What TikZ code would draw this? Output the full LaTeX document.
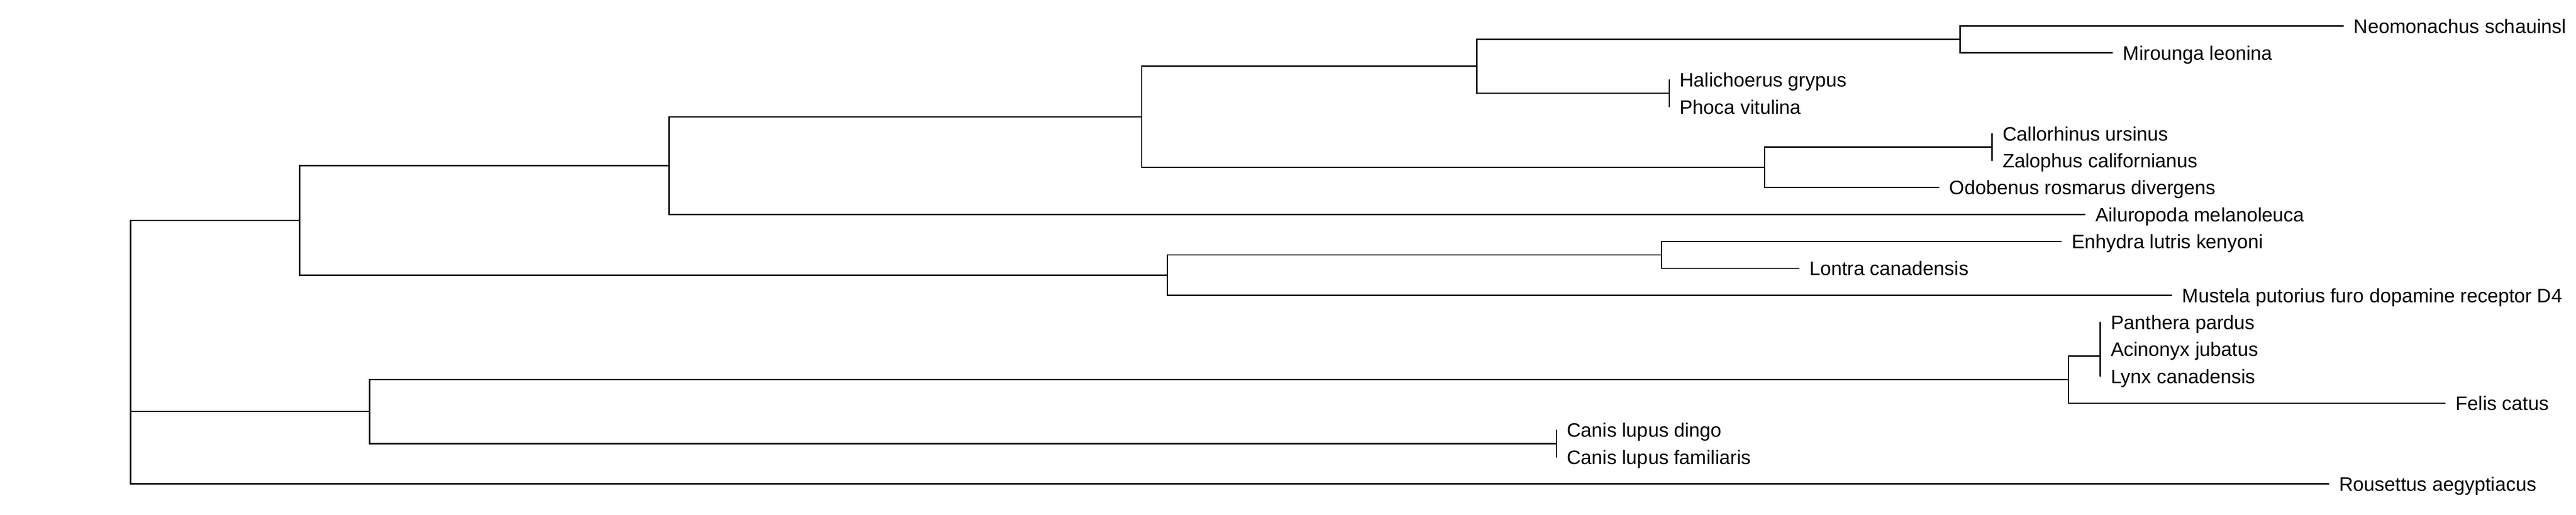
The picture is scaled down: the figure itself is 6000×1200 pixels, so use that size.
\documentclass[tikz,border=0pt]{standalone}
\usepackage{fontspec}
\setmainfont{Liberation Sans}
\usetikzlibrary{positioning}

\begin{document}
\begin{tikzpicture}[x=0.01cm, y=-0.01cm,
      branch/.style={draw=black, line width=0.9pt, line cap=round},
      taxon/.style={anchor=base west, inner sep=0pt, xshift=0.24cm, yshift=-0.165cm, font=\fontsize{12.9}{15}\selectfont}]

\useasboundingbox (0,0) rectangle (6000,1200);

% inner nodes
\coordinate (r) at (304,820);
\coordinate (a) at (698,513.6);
\coordinate (b) at (1558,386.0);
\coordinate (c) at (2659,272.2);
\coordinate (d) at (3440,154.5);
\coordinate (e) at (4565,91.7);
\coordinate (f) at (3888,217.3);
\coordinate (g) at (4110,389.9);
\coordinate (h) at (4640,342.9);
\coordinate (i) at (2719,641.1);
\coordinate (j) at (3870,594.0);
\coordinate (k) at (861,959.0);
\coordinate (l) at (4818,884.4);
\coordinate (m) at (4892,829.5);
\coordinate (mp) at (4892,782.4);
\coordinate (n) at (3625,1033.6);

% leaves
\coordinate (neo) at (5458,60.3);
\coordinate (mir) at (4920,123.1);
\coordinate (hal) at (3888,185.9);
\coordinate (pho) at (3888,248.7);
\coordinate (cal) at (4640,311.5);
\coordinate (zal) at (4640,374.3);
\coordinate (odo) at (4516,437.0);
\coordinate (ail) at (4856,499.8);
\coordinate (enh) at (4801,562.6);
\coordinate (lon) at (4190,625.4);
\coordinate (mus) at (5058,688.2);
\coordinate (pan) at (4892,751.0);
\coordinate (aci) at (4892,813.8);
\coordinate (lyn) at (4892,876.6);
\coordinate (fel) at (5695,939.4);
\coordinate (din) at (3625,1002.2);
\coordinate (fam) at (3625,1065.0);
\coordinate (rou) at (5424,1127.7);

\node[taxon] (neoL) at (neo) {Neomonachus schauinsl};
\node[taxon] (mirL) at (mir) {Mirounga leonina};
\node[taxon] (halL) at (hal) {Halichoerus grypus};
\node[taxon] (phoL) at (pho) {Phoca vitulina};
\node[taxon] (calL) at (cal) {Callorhinus ursinus};
\node[taxon] (zalL) at (zal) {Zalophus californianus};
\node[taxon] (odoL) at (odo) {Odobenus rosmarus divergens};
\node[taxon] (ailL) at (ail) {Ailuropoda melanoleuca};
\node[taxon] (enhL) at (enh) {Enhydra lutris kenyoni};
\node[taxon] (lonL) at (lon) {Lontra canadensis};
\node[taxon] (musL) at (mus) {Mustela putorius furo dopamine receptor D4};
\node[taxon] (panL) at (pan) {Panthera pardus};
\node[taxon] (aciL) at (aci) {Acinonyx jubatus};
\node[taxon] (lynL) at (lyn) {Lynx canadensis};
\node[taxon] (felL) at (fel) {Felis catus};
\node[taxon] (dinL) at (din) {Canis lupus dingo};
\node[taxon] (famL) at (fam) {Canis lupus familiaris};
\node[taxon] (rouL) at (rou) {Rousettus aegyptiacus};

\draw[branch] (r) |- (a);
\draw[branch] (r) |- (k);
\draw[branch] (r) |- (rou);
\draw[branch] (a) |- (b);
\draw[branch] (a) |- (i);
\draw[branch] (b) |- (c);
\draw[branch] (b) |- (ail);
\draw[branch] (c) |- (d);
\draw[branch] (c) |- (g);
\draw[branch] (d) |- (e);
\draw[branch] (d) |- (f);
\draw[branch] (e) |- (neo);
\draw[branch] (e) |- (mir);
\draw[branch] (f) |- (hal);
\draw[branch] (f) |- (pho);
\draw[branch] (g) |- (h);
\draw[branch] (g) |- (odo);
\draw[branch] (h) |- (cal);
\draw[branch] (h) |- (zal);
\draw[branch] (i) |- (j);
\draw[branch] (i) |- (mus);
\draw[branch] (j) |- (enh);
\draw[branch] (j) |- (lon);
\draw[branch] (k) |- (l);
\draw[branch] (k) |- (n);
\draw[branch] (l) |- (m);
\draw[branch] (l) |- (fel);
\draw[branch] (m) |- (mp);
\draw[branch] (m) |- (lyn);
\draw[branch] (mp) |- (pan);
\draw[branch] (mp) |- (aci);
\draw[branch] (n) |- (din);
\draw[branch] (n) |- (fam);

\end{tikzpicture}
\end{document}
